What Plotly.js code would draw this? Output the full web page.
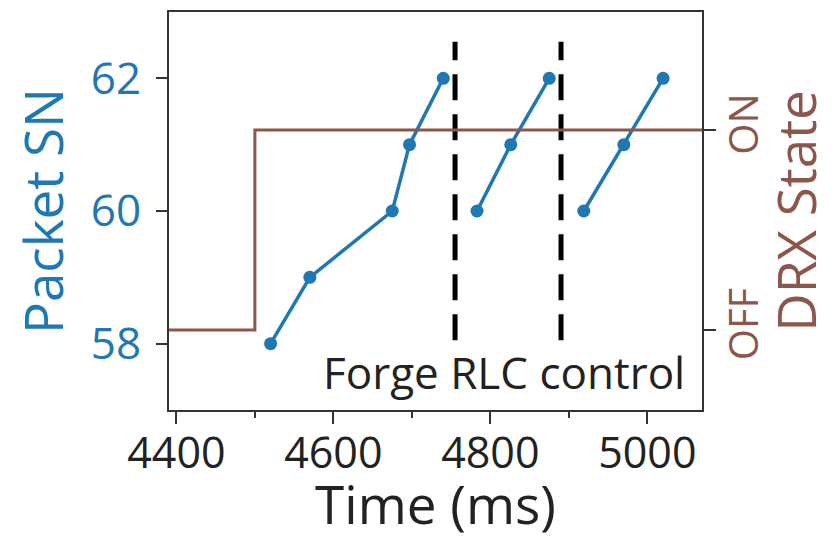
<!DOCTYPE html>
<html>
<head>
<meta charset="utf-8">
<script src="https://cdn.plot.ly/plotly-3.0.1.min.js"></script>
<style>html,body{margin:0;padding:0;background:#fff}#chart{width:832px;height:540px}</style>
</head>
<body>
<div id="chart"></div>
<script>
// Packet sequence numbers (three bursts, not connected across resets)
const pktTime = [4520, 4570, 4675, 4697, 4740, null, 4783, 4826, 4875, null, 4919, 4970, 5020];
const pktSN   = [58, 59, 60, 61, 62, null, 60, 61, 62, null, 60, 61, 62];
// DRX state (0 = OFF, 1 = ON)
const drxTime  = [4380, 4500, 5100];
const drxState = [0, 1, 1];
// Forged RLC control events
const controlTimes = [4755, 4890];
const xTickVals = [4400, 4600, 4800, 5000];
const drxTickVals = [0, 1];
const drxTickText = ['OFF', 'ON'];

const BLUE = '#1f77b4';
const BROWN = '#8c564b';
const FONT = 'Open Sans';

const traces = [];
traces.push({
  x: drxTime, y: drxState, yaxis: 'y2', mode: 'lines',
  line: {shape: 'hv', color: BROWN, width: 3}, hoverinfo: 'skip'
});
controlTimes.forEach(t => {
  traces.push({
    x: [t, t], y: [58.05, 62.55], mode: 'lines',
    line: {color: '#000', width: 5, dash: '26px,14px'}, hoverinfo: 'skip'
  });
});
traces.push({
  x: pktTime, y: pktSN, mode: 'lines+markers', connectgaps: false,
  line: {color: BLUE, width: 3.5}, marker: {color: BLUE, size: 13}
});

const layout = {
  width: 832, height: 540,
  margin: {l: 169, r: 130, t: 12, b: 130},
  showlegend: false,
  paper_bgcolor: '#fff', plot_bgcolor: '#fff',
  font: {family: FONT, color: '#222'},
  xaxis: {
    range: [4390.6, 5069.6],
    tickvals: xTickVals, ticks: 'outside', ticklen: 12, tickwidth: 2, tickcolor: '#333',
    minor: {dtick: 100, tick0: 4400, ticks: 'outside', ticklen: 6, tickwidth: 2, tickcolor: '#333', showgrid: false},
    showgrid: false, zeroline: false,
    showline: true, linecolor: '#333', linewidth: 2, mirror: true,
    tickfont: {size: 43, color: '#222', family: FONT},
    ticklabelstandoff: -8,
    title: {text: 'Time (ms)', font: {size: 53, color: '#222', family: FONT}, standoff: 16}
  },
  yaxis: {
    range: [57, 63],
    tickvals: [58, 60, 62], ticks: 'outside', ticklen: 11, tickwidth: 2, tickcolor: '#333',
    showgrid: false, zeroline: false,
    showline: true, linecolor: '#333', linewidth: 2,
    tickfont: {size: 44, color: BLUE, family: FONT},
    ticklabelstandoff: 6,
    title: {text: 'Packet SN', font: {size: 53, color: BLUE, family: FONT}, standoff: 10}
  },
  yaxis2: {
    overlaying: 'y', side: 'right', range: [-0.4, 1.59],
    tickvals: drxTickVals, ticktext: drxTickText, tickangle: -90,
    ticks: 'outside', ticklen: 12, tickwidth: 2, tickcolor: '#333',
    showgrid: false, zeroline: false,
    showline: true, linecolor: '#333', linewidth: 2,
    tickfont: {size: 40, color: BROWN, family: FONT},
    ticklabelstandoff: -6,
    title: {text: 'DRX State', font: {size: 53, color: BROWN, family: FONT}, standoff: 6}
  },
  annotations: [{
    xref: 'paper', yref: 'y', x: 0.972, y: 57.57, xanchor: 'right', yanchor: 'middle',
    text: 'Forge RLC control', showarrow: false,
    font: {size: 44, color: '#222', family: FONT}
  }]
};

Plotly.newPlot('chart', traces, layout, {staticPlot: true, displayModeBar: false});
</script>
</body>
</html>
